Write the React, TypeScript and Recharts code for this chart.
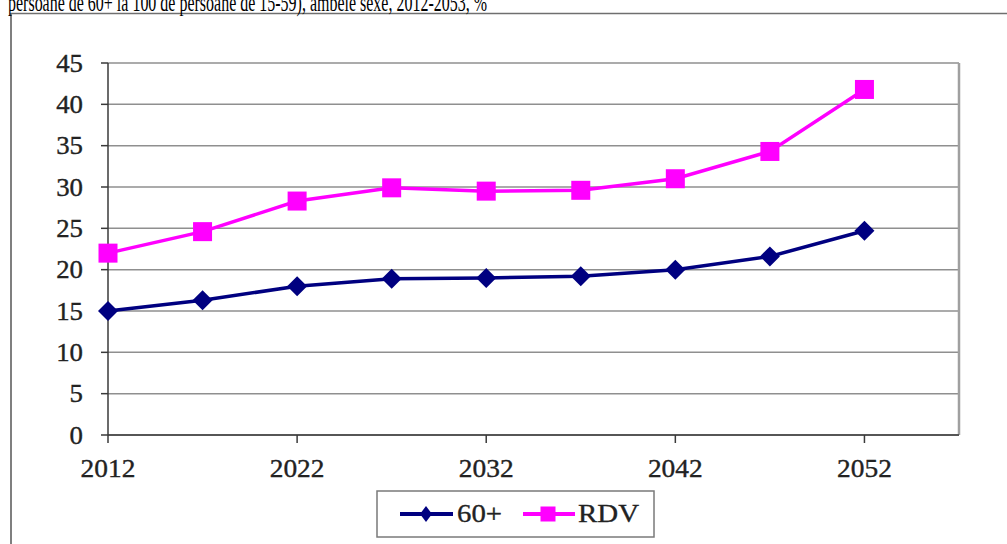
import React from 'react';
import { LineChart, Line, XAxis, YAxis, CartesianGrid, Legend, ReferenceLine } from 'recharts';

const years = [2012, 2017, 2022, 2027, 2032, 2037, 2042, 2047, 2052];
const seniors = [15.0, 16.3, 18.0, 18.9, 19.0, 19.2, 20.0, 21.6, 24.7];
const rdv = [22.0, 24.6, 28.3, 29.9, 29.5, 29.6, 31.0, 34.3, 41.8];
const xTicks = [2012, 2022, 2032, 2042, 2052];
const yTicks = [0, 5, 10, 15, 20, 25, 30, 35, 40, 45];
const seriesNames = { s60: '60+', rdv: 'RDV' };
const titleText = 'persoane de 60+ la 100 de persoane de 15-59), ambele sexe, 2012-2053, %';

const data = years.map((y, i) => ({ year: y, s60: seniors[i], rdv: rdv[i] }));

const NAVY = '#000080';
const MAGENTA = '#FF00FF';
const FONT = 'Liberation Serif';
const TXT = '#222';
const DIGIT_W = 13.4;

const Diamond = (props: any) => {
  const { cx, cy, key } = props;
  if (cx == null || cy == null) return null;
  const r = 10;
  return <path key={key} d={`M${cx},${cy - r}L${cx + r},${cy}L${cx},${cy + r}L${cx - r},${cy}Z`} fill={NAVY} stroke="none" />;
};

const Square = (props: any) => {
  const { cx, cy, key } = props;
  if (cx == null || cy == null) return null;
  const s = 19;
  return <rect key={key} x={cx - s / 2} y={cy - s / 2} width={s} height={s} fill={MAGENTA} stroke="none" />;
};

const textStyle = { fontFamily: FONT, fontSize: 25 };

const YTick = (props: any) => {
  const { x, y, payload } = props;
  const txt = String(payload.value);
  const len = txt.length * DIGIT_W;
  return (
    <text x={x - 18 - len} y={y + 8.5} style={textStyle} fill={TXT} stroke={TXT} strokeWidth={0.35} textLength={len} lengthAdjust="spacingAndGlyphs">
      {txt}
    </text>
  );
};

const XTick = (props: any) => {
  const { x, y, payload } = props;
  const txt = String(payload.value);
  const len = txt.length * 13.7;
  return (
    <text x={x - len / 2} y={y + 34} style={textStyle} fill={TXT} stroke={TXT} strokeWidth={0.35} textLength={len} lengthAdjust="spacingAndGlyphs">
      {txt}
    </text>
  );
};

const LegendContent = (props: any) => {
  const payload = props.payload || [];
  const find = (k: string) => payload.find((p: any) => p.dataKey === k);
  const a = find('s60');
  const b = find('rdv');
  return (
    <svg width={280} height={50} style={{ position: 'absolute', left: 376, top: 490, overflow: 'visible' }}>
      <rect x={1} y={1} width={277} height={46} fill="#fff" stroke="#7a7a7a" strokeWidth={1.5} />
      <line x1={24} x2={77} y1={24} y2={24} stroke={NAVY} strokeWidth={4} />
      <path d="M50,16L56,24L50,32L44,24Z" fill={NAVY} />
      <text x={81} y={32} style={{ fontFamily: FONT, fontSize: 26 }} fill={TXT} stroke={TXT} strokeWidth={0.35} textLength={45} lengthAdjust="spacingAndGlyphs">
        {a ? a.value : seriesNames.s60}
      </text>
      <line x1={147} x2={199} y1={24} y2={24} stroke={MAGENTA} strokeWidth={4} />
      <rect x={164.5} y={16.5} width={15} height={15} fill={MAGENTA} />
      <text x={202} y={32} style={{ fontFamily: FONT, fontSize: 26 }} fill={TXT} stroke={TXT} strokeWidth={0.35} textLength={61} lengthAdjust="spacingAndGlyphs">
        {b ? b.value : seriesNames.rdv}
      </text>
    </svg>
  );
};

export default function App() {
  return (
    <div style={{ position: 'absolute', left: 0, top: 0, width: 1007, height: 544, overflow: 'hidden', background: '#fff' }}>
      <LineChart
        width={1007}
        height={544}
        data={data}
        margin={{ top: 63, right: 48, bottom: 49, left: 48 }}
        style={{ fontFamily: FONT }}
      >
        <CartesianGrid vertical={false} stroke="#8f8f8f" strokeWidth={1.5} />
        <ReferenceLine x={2057} stroke="#a0a0a0" strokeWidth={2.5} />
        <XAxis
          type="number"
          dataKey="year"
          domain={[2012, 2057]}
          ticks={xTicks}
          tick={<XTick />}
          tickSize={8}
          tickMargin={0}
          height={60}
          axisLine={{ stroke: '#3a3a3a', strokeWidth: 1.5 }}
          tickLine={{ stroke: '#3a3a3a', strokeWidth: 1.5 }}
          interval={0}
        />
        <YAxis
          domain={[0, 45]}
          ticks={yTicks}
          tick={<YTick />}
          tickSize={7}
          tickMargin={0}
          width={60}
          axisLine={{ stroke: '#3a3a3a', strokeWidth: 1.5 }}
          tickLine={{ stroke: '#3a3a3a', strokeWidth: 1.5 }}
          interval={0}
        />
        <Legend content={<LegendContent />} wrapperStyle={{ left: 0, top: 0, width: 0, height: 0, position: 'absolute' }} />
        <Line type="linear" dataKey="s60" name={seriesNames.s60} stroke={NAVY} strokeWidth={3.5} dot={<Diamond />} activeDot={false} isAnimationActive={false} />
        <Line type="linear" dataKey="rdv" name={seriesNames.rdv} stroke={MAGENTA} strokeWidth={3.5} dot={<Square />} activeDot={false} isAnimationActive={false} />
      </LineChart>
      <svg width={1007} height={544} style={{ position: 'absolute', left: 0, top: 0, pointerEvents: 'none' }}>
        <line x1={11} x2={11} y1={13} y2={544} stroke="#7f7f7f" strokeWidth={2} />
        <line x1={11} x2={1007} y1={13.5} y2={13.5} stroke="#6f6f6f" strokeWidth={1.5} />
        <text x={8} y={11} style={{ fontFamily: FONT, fontSize: 26 }} fill="#000" textLength={479} lengthAdjust="spacingAndGlyphs">
          {titleText}
        </text>
      </svg>
    </div>
  );
}
